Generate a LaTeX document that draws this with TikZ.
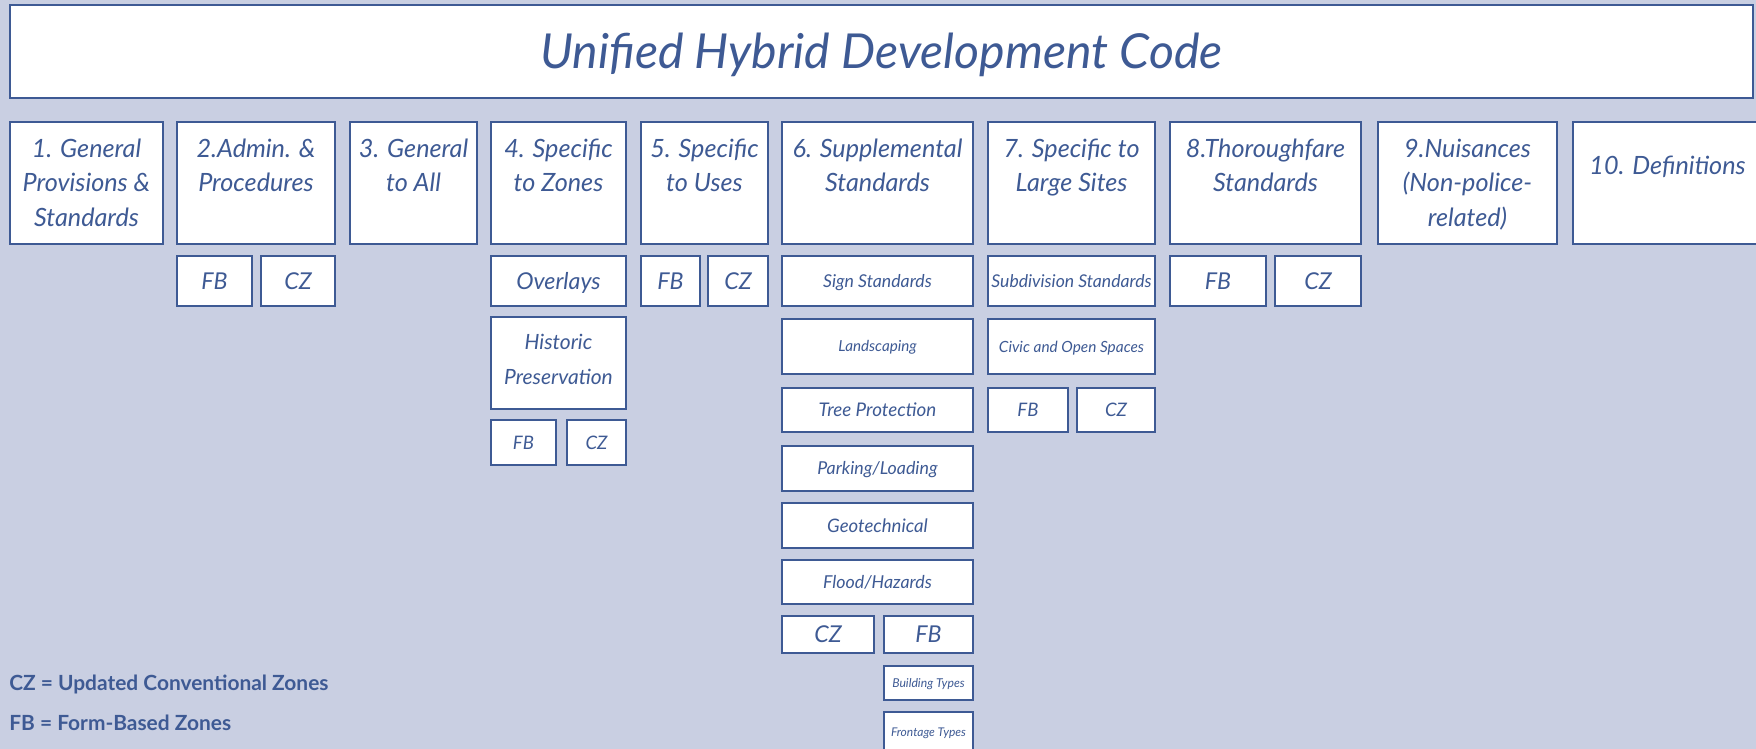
\documentclass[tikz,border=0pt]{standalone}
\usepackage{fontspec}
\setmainfont{Lato}
\definecolor{bg}{RGB}{201,207,226}
\definecolor{ink}{RGB}{62,90,148}

% line struts: keep every line of a heading at the same height/depth
\newcommand\st{\vrule height 0.75\baselineskip depth 0.25\baselineskip width 0pt}
\newcommand\sth{\vrule height 0.62\baselineskip depth 0.38\baselineskip width 0pt}

\tikzset{
  cell/.style={draw=ink, line width=1.35pt, fill=white, text=ink, inner sep=0pt, align=center},
  % single-line italic label of a given size (pt); caps are centred in the box
  lbl/.style={font=\fontsize{#1pt}{#1pt}\selectfont\itshape, text height={0.7165*#1pt}, text depth=0pt},
  tHead/.style={font=\fontsize{12.6pt}{17.25pt}\selectfont\itshape},
  tHist/.style={font=\fontsize{10.5pt}{17.15pt}\selectfont\itshape},
  legend/.style={text=ink, inner sep=0pt, anchor=west, font=\bfseries\fontsize{10.45pt}{12pt}\selectfont, text height=7.5pt, text depth=0pt},
}

% \cellbox{name}{x1}{y1}{x2}{y2}{style}{text}  -- corners in pixel units
\newcommand\cellbox[7]{%
  \node[cell, #6, minimum width={(#4-#2)*0.5pt}, minimum height={(#5-#3)*0.5pt}]
    (#1) at ({(#2+#4)/2},{(#3+#5)/2}) {#7};}

\begin{document}
\begin{tikzpicture}[x=0.5pt, y=-0.5pt]
  \fill[bg] (0,0) rectangle (1756,749);
  \useasboundingbox (0,0) rectangle (1756,749);

  % title bar
  \cellbox{title}{10}{5}{1753}{98}{lbl=24.1}{Unified Hybrid Development Code}

  % chapters
  \cellbox{c1}{10}{122}{163}{244}{tHead}{\st 1. General\\Provisions \&\\Standards\st}
  \cellbox{c2}{177}{122}{335}{244}{tHead}{\st 2.Admin. \&\\Procedures\\\st}
  \cellbox{c3}{350}{122}{477}{244}{tHead}{\st 3. General\\to All\\\st}
  \cellbox{c4}{491}{122}{626}{244}{tHead}{\st 4. Specific\\to Zones\\\st}
  \cellbox{c5}{641}{122}{768}{244}{tHead}{\st 5. Specific\\to Uses\\\st}
  \cellbox{c6}{782}{122}{973}{244}{tHead}{\st 6. Supplemental\\Standards\\\st}
  \cellbox{c7}{988}{122}{1155}{244}{tHead}{\st 7. Specific to\\Large Sites\\\st}
  \cellbox{c8}{1170}{122}{1361}{244}{tHead}{\st 8.Thoroughfare\\Standards\\\st}
  \cellbox{c9}{1378}{122}{1557}{244}{tHead}{\st 9.Nuisances\\(Non-police-\\related)\st}
  \cellbox{c10}{1573}{122}{1762}{244}{tHead}{\st 10. Definitions\\\st}

  % chapter 2
  \cellbox{c2fb}{177}{256}{252}{306}{lbl=11.6}{FB}
  \cellbox{c2cz}{261}{256}{335}{306}{lbl=11.6}{CZ}

  % chapter 4
  \cellbox{c4ov}{491}{256}{626}{306}{lbl=11.6}{Overlays}
  \cellbox{c4hp}{491}{317}{626}{409}{tHist}{\sth Historic\\Preservation\sth}
  \cellbox{c4fb}{491}{420}{556}{465}{lbl=9.3}{FB}
  \cellbox{c4cz}{567}{420}{626}{465}{lbl=9.3}{CZ}

  % chapter 5
  \cellbox{c5fb}{641}{256}{700}{306}{lbl=11.6}{FB}
  \cellbox{c5cz}{708}{256}{768}{306}{lbl=11.6}{CZ}

  % chapter 6
  \cellbox{c6sign}{782}{256}{973}{306}{lbl=8.85}{Sign Standards}
  \cellbox{c6land}{782}{319}{973}{374}{lbl=7.6}{Landscaping}
  \cellbox{c6tree}{782}{388}{973}{432}{lbl=9.4}{Tree Protection}
  \cellbox{c6park}{782}{446}{973}{491}{lbl=8.9}{Parking/Loading}
  \cellbox{c6geo}{782}{503}{973}{548}{lbl=9.3}{Geotechnical}
  \cellbox{c6flood}{782}{560}{973}{604}{lbl=8.9}{Flood/Hazards}
  \cellbox{c6cz}{782}{616}{874}{653}{lbl=11.6}{CZ}
  \cellbox{c6fb}{884}{616}{973}{653}{lbl=11.6}{FB}
  \cellbox{c6bt}{884}{666}{973}{700}{lbl=6.1}{Building Types}
  \cellbox{c6ft}{884}{712}{973}{752}{lbl=6.0}{Frontage Types}

  % chapter 7
  \cellbox{c7sub}{988}{256}{1155}{306}{lbl=8.8}{Subdivision Standards}
  \cellbox{c7civ}{988}{319}{1155}{374}{lbl=7.7}{Civic and Open Spaces}
  \cellbox{c7fb}{988}{388}{1068}{432}{lbl=9.3}{FB}
  \cellbox{c7cz}{1077}{388}{1155}{432}{lbl=9.3}{CZ}

  % chapter 8
  \cellbox{c8fb}{1170}{256}{1266}{306}{lbl=11.6}{FB}
  \cellbox{c8cz}{1275}{256}{1361}{306}{lbl=11.6}{CZ}

  % legend
  \node[legend] (lgcz) at (9,683.3) {CZ = Updated Conventional Zones};
  \node[legend] (lgfb) at (9,722.5) {FB = Form-Based Zones};
\end{tikzpicture}
\end{document}
